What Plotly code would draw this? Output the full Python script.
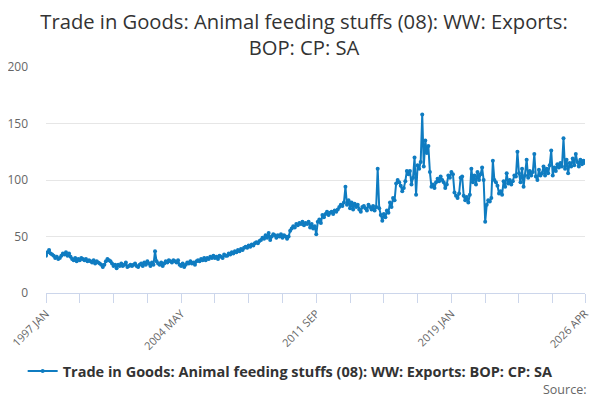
import plotly.graph_objects as go

# ---- data ----
month_names = ["JAN", "FEB", "MAR", "APR", "MAY", "JUN",
               "JUL", "AUG", "SEP", "OCT", "NOV", "DEC"]
start_year = 1997
n_months = 352  # 1997 JAN .. 2026 APR

values_1997_2001 = [33, 36, 38, 35, 34, 33, 31, 32, 30, 31,
                    33, 35, 34, 36, 33, 35, 32, 30, 29, 31,
                    28, 30, 29, 31, 30, 29, 30, 28, 29, 28,
                    27, 29, 26, 28, 27, 26, 25, 23, 25, 28,
                    30, 29, 28, 26, 24, 25, 22, 25, 24, 26,
                    24, 25, 27, 23, 24, 25, 24, 25, 26]
values_2001_2006 = [24, 23, 25, 26, 24, 27, 25, 28, 26, 24,
                    27, 25, 37, 28, 26, 25, 27, 24, 26, 28,
                    27, 29, 28, 27, 29, 28, 27, 29, 25, 24,
                    26, 23, 25, 27, 26, 28, 26, 27, 25, 28,
                    29, 28, 30, 29, 31, 29, 31, 30, 32, 31,
                    33, 31, 32, 30, 33, 32, 31, 34, 33]
values_2006_2011 = [33, 35, 34, 36, 35, 37, 36, 38, 37, 39,
                    38, 40, 41, 40, 42, 41, 43, 42, 44, 45,
                    44, 46, 47, 49, 48, 51, 49, 53, 47, 50,
                    52, 51, 49, 51, 50, 52, 49, 51, 50, 48,
                    50, 55, 57, 59, 58, 61, 60, 62, 61, 63,
                    60, 62, 61, 63, 58, 61, 57, 59, 52]
values_2011_2016 = [63, 65, 62, 69, 67, 70, 72, 69, 71, 72,
                    70, 73, 72, 74, 76, 78, 77, 80, 94, 78,
                    82, 75, 80, 74, 79, 76, 78, 74, 72, 76,
                    77, 75, 73, 78, 76, 74, 77, 73, 76, 110,
                    75, 69, 64, 70, 67, 73, 71, 80, 76, 84,
                    82, 97, 100, 98, 95, 90, 93, 99, 108]
values_2016_2021 = [105, 108, 96, 102, 120, 87, 113, 110, 116, 158,
                    112, 135, 124, 130, 107, 94, 96, 93, 98, 101,
                    99, 103, 100, 98, 93, 96, 104, 102, 107, 105,
                    89, 86, 84, 88, 102, 103, 86, 82, 85, 80,
                    87, 110, 98, 104, 96, 107, 100, 105, 111, 100,
                    63, 78, 82, 81, 84, 117, 100, 98]
values_2021_2026 = [95, 88, 90, 87, 99, 94, 106, 97, 100, 96,
                    99, 104, 103, 125, 106, 98, 110, 94, 104, 118,
                    102, 108, 104, 107, 123, 103, 100, 109, 104, 106,
                    112, 104, 110, 106, 113, 126, 104, 111, 108, 114,
                    111, 115, 112, 137, 110, 118, 106, 115, 112, 119,
                    113, 123, 116, 112, 118, 114, 117, 115]

series_name = "Trade in Goods: Animal feeding stuffs (08): WW: Exports: BOP: CP: SA"
title_text = "Trade in Goods: Animal feeding stuffs (08): WW: Exports:<br>BOP: CP: SA"
labelled_ticks = ["1997 JAN", "2004 MAY", "2011 SEP", "2019 JAN", "2026 APR"]
tick_step = 22
y_ticks = [0, 50, 100, 150, 200]

# ---- build ----
categories = [f"{start_year + i // 12} {month_names[i % 12]}" for i in range(n_months)]
values = (values_1997_2001 + values_2001_2006 + values_2006_2011 +
          values_2011_2016 + values_2016_2021 + values_2021_2026)

tick_vals = categories[0:n_months - 1:tick_step] + [categories[-1]]
tick_text = [c if c in labelled_ticks else "" for c in tick_vals]

blue = "#0f7cc1"
axis_col = "#ccd6eb"
font = "Open Sans"

# page body has an 8px margin, so the figure is 8px smaller on each axis
W, H = 592, 392

fig = go.Figure()
fig.add_trace(go.Scatter(
    x=categories, y=values, mode="lines+markers", name=series_name,
    line=dict(color=blue, width=2),
    marker=dict(color=blue, size=4),
    showlegend=True,
))

fig.update_layout(
    width=W, height=H,
    paper_bgcolor="white", plot_bgcolor="white",
    margin=dict(l=38, r=15, t=59, b=107, autoexpand=False),
    font=dict(family=font, color="#666666", size=12),
    title=dict(text=title_text, x=0.5, xref="container", y=1 - 21 / H,
               yref="container", xanchor="center", yanchor="middle",
               font=dict(family=font, size=20.2, color="#333333")),
    legend=dict(orientation="h", x=0.453, xanchor="center", y=-0.345,
                yanchor="middle",
                font=dict(family=font, size=14.5, color="#333333", weight="bold")),
    annotations=[dict(text="Source:", xref="paper", yref="paper",
                      x=1.0056, y=-0.428, xanchor="right", yanchor="middle",
                      showarrow=False,
                      font=dict(family=font, size=12.5, color="#666666"))],
)

fig.update_xaxes(
    type="category", range=[0, n_months - 1],
    tickmode="array", tickvals=tick_vals, ticktext=tick_text,
    tickangle=-45, ticks="outside", ticklen=9, tickcolor=axis_col,
    showline=True, linecolor=axis_col, linewidth=1,
    showgrid=False, zeroline=False,
    tickfont=dict(family=font, size=11, color="#666666"),
)
fig.update_yaxes(
    range=[0, 200], tickvals=y_ticks, showgrid=True, gridcolor="#e6e6e6",
    zeroline=False, showline=False, ticks="", ticklabelstandoff=17,
    tickfont=dict(family=font, size=12, color="#666666"),
)

fig.write_html("out.html")
